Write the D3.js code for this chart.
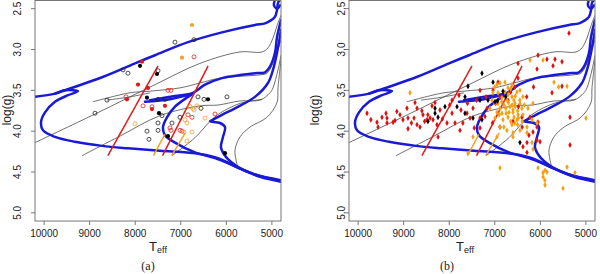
<!DOCTYPE html>
<html>
<head>
<meta charset="utf-8">
<script src="https://cdnjs.cloudflare.com/ajax/libs/d3/7.8.5/d3.min.js"></script>
<style>
body { margin: 0; background: #fff; }
svg { display: block; font-family: "Liberation Sans", Arial, sans-serif; }
</style>
</head>
<body>
<svg id="chart" width="600" height="274"></svg>
<script>
// axis ticks
var tempTicks = [10000, 9000, 8000, 7000, 6000, 5000];
var loggTicks = [2.5, 3.0, 3.5, 4.0, 4.5, 5.0];

// thick blue evolutionary tracks, [Teff, logg]
var blueTracks = [
  [[10200,3.58],[9761,3.54],[9541,3.50],[9256,3.51],[9476,3.56],[9761,3.64],[9980,3.77],[10068,3.89],[10024,3.99],[9761,4.07],[9322,4.13],[8729,4.18],[8159,4.21],[7456,4.24],[6578,4.28],[6139,4.34],[5700,4.46],[5261,4.56],[4800,4.62]],
  [[9761,3.54],[8729,3.34],[8005,3.17],[7566,3.07],[6842,2.91],[6095,2.79],[5371,2.70],[5151,2.68],[5042,2.65],[4932,2.60],[4888,2.52],[4866,2.43],[4822,2.39]],
  [[4932,2.39],[4954,2.46],[4888,2.50],[4822,2.46]],
  [[7786,3.64],[7237,3.61],[6732,3.54]],
  [[6732,3.54],[6842,3.58],[7127,3.70],[7303,3.83],[7390,3.95],[7346,4.05],[7127,4.14],[6688,4.26],[6249,4.33],[5810,4.43],[5371,4.53],[4800,4.60]],
  [[7676,3.62],[7127,3.57],[6732,3.53],[6469,3.43],[6095,3.35],[5656,3.31],[5371,3.29],[5151,3.28],[5042,3.21],[4932,3.04],[4888,2.85],[4800,2.64]],
  [[4800,2.76],[4888,3.04],[4976,3.25],[5086,3.41],[5371,3.58],[5810,3.72],[6095,3.80],[6293,3.86],[6359,3.88],[6139,3.90],[6029,3.95],[6073,4.07],[6117,4.20],[5986,4.33],[5766,4.43],[5371,4.53],[4800,4.61]]
];

// thin grey isochrones / tracks
var greyTracks = [
  [[10200,4.14],[8883,3.79],[7566,3.43],[6578,3.17],[5700,3.03],[5217,3.03],[5086,2.98],[4976,2.86],[4888,2.71],[4800,2.58]],
  [[8927,3.64],[8115,3.53],[7676,3.51],[7017,3.47],[6578,3.41],[6139,3.35],[5261,3.31],[5108,3.29],[4976,3.17],[4800,2.88]],
  [[8620,3.62],[8115,3.58],[7676,3.53]],
  [[9168,4.30],[8334,4.06],[7456,3.81],[6578,3.69],[6183,3.68],[5700,3.63],[5261,3.62],[5042,3.53],[4976,3.47],[4866,3.25],[4800,3.07]],
  [[7193,4.30],[6688,4.08],[6359,3.88],[6139,3.78],[5700,3.66],[5217,3.61]],
  [[4800,3.13],[4866,3.47],[4888,3.65],[5108,3.83],[5481,3.95],[5700,4.07],[5810,4.23],[5788,4.35],[5744,4.45]]
];

// instability strip edges
var redEdges = [[[8600,4.3],[7500,3.2]], [[7400,4.3],[6400,3.2]]];
var orangeEdges = [[[7600,4.3],[7350,4.04]], [[7200,4.3],[6900,4.02]]];

// panel (a) stars
var aFilledBlack = [[7895,3.20],[7522,3.30],[7742,3.59],[7478,3.78],[7281,4.06],[6403,3.61],[6030,4.27]];
var aFilledRed = [[7851,3.15],[7939,3.43],[7720,3.47],[8181,3.61],[7632,3.73],[7347,3.69]];
var aFilledOrange = [[6754,2.70],[6973,3.10]];
var aOpenBlack = [[8268,3.25],[8159,3.29],[7500,3.26],[7127,2.91],[6710,2.88],[8620,3.62],[8883,3.78],[7500,3.61],[7347,3.61],[7412,3.81],[7500,3.90],[7500,3.99],[7742,4.00],[7698,4.10],[7193,3.90],[7017,3.83],[6622,3.58],[6490,3.61],[5986,3.58],[6556,3.72]];
var aOpenRed = [[8203,3.58],[7829,3.69],[7632,3.70],[6710,3.09],[7281,3.50],[7215,3.50],[7237,3.96],[7215,3.99],[7017,3.99],[6973,4.00],[6842,3.80],[6754,3.83],[6249,3.79]];
var aOpenOrange = [[8005,3.91],[6908,3.86],[6864,3.90],[6929,4.01],[6754,4.01],[6864,4.12],[6798,3.70],[6732,3.72],[6644,3.69],[6710,3.74],[6469,3.84]];

// panel (b) stars
var bRed = [[5371,2.80],[6051,3.07],[5678,3.12],[5525,3.15],[5854,3.12],[6490,3.17],[6073,3.24],[5722,3.20],[6490,3.35],[5525,3.45],[5744,3.53],
  [7039,3.50],[7324,3.50],[7193,3.58],[6886,3.58],[6710,3.62],[7786,3.56],[7939,3.62],[8378,3.69],[8312,3.65],[8576,3.80],[8707,3.72],[8927,3.72],
  [8356,3.86],[7939,3.78],[7742,3.74],[7610,3.78],[7544,3.84],[7324,3.84],[7171,3.72],[7478,3.72],[8203,3.74],[8773,3.84],[9081,3.80],[9015,3.86],
  [9234,3.89],[9366,3.90],[9585,3.89],[9805,3.78],[9476,3.83],[8905,3.84],[8707,3.92],[8488,3.86],[8642,3.95],[8268,3.92],[8049,3.90],[7873,3.90],
  [7324,3.96],[6886,3.95],[6073,3.95],[6161,4.01],[6073,4.11],[6007,4.13],[6293,4.14],[6381,4.19],[6293,4.26],[5349,3.83],[5349,4.17],[6051,3.89],
  [6227,3.83],[6403,3.83],[8246,4.07],[9388,3.78],[9366,3.84],[9190,3.87],[9563,3.95],[8905,3.97],[7764,3.99],[8751,3.65],[7215,3.82],[8600,3.75],
  [8470,3.80],[8420,3.84],[8540,3.88],[8150,3.85],[7990,3.68],[7600,3.66],[7400,3.62],[6980,3.66],[6560,3.46],[6650,3.52],[6930,3.40],[6480,3.70],
  [6400,3.95],[6250,4.05],[9720,3.86],[9150,3.76],[8830,3.90],[7700,3.90],[7450,3.96],[7050,3.90],[6300,3.58],[6150,3.46],[6600,3.88]];
var bOrange = [[8861,3.53],[7478,4.07],[7588,4.27],[6951,4.07],[6600,4.07],[6886,4.45],[6183,4.14],[6051,4.45],[5942,4.51],[5898,4.48],[5854,4.50],
  [5898,4.66],[5503,4.70],[5415,4.44],[5239,4.51],[4998,3.84],[5415,3.45],[5942,3.13],[6227,3.13],[6886,3.41],[5940,4.56],[5900,4.60],[6160,4.22],
  [6776,3.40],[6929,3.53],[6995,3.66],[6886,3.72],[6732,3.62],[6622,3.58],[6512,3.52],[6447,3.66],[6600,3.77],[6710,3.83],[6820,3.86],[6512,3.86],
  [6381,3.80],[6293,3.95],[6447,3.99],[6622,3.92],[6842,3.78],[6951,3.77],[7061,3.62],[7039,3.53],[6666,3.70],[6556,3.66],[6776,3.52],[6842,3.59],
  [6710,3.47],[6381,3.58],[6271,3.72],[6183,3.86],[6403,3.72],[6622,3.43],[6951,3.43],[7105,3.72],[6995,3.84],[6732,3.99],[6886,3.95],[6600,4.02],
  [6293,4.02],[6073,3.90],[6161,3.66],[6490,3.80],[6798,3.68],[6688,3.77],[6578,3.83],[6929,3.66],[6447,3.50],[6700,3.65],[6600,3.74],[6550,3.70],
  [6750,3.78],[6650,3.88],[6500,3.75],[6450,3.62],[6850,3.64],[6700,3.55],[6500,3.92],[6400,3.88],[6800,3.95],[6350,3.68],[6550,3.57],[6650,3.48],
  [6580,3.62],[6620,3.68],[6760,3.72],[6480,3.84],[6560,3.90],[6900,3.80],[7000,3.46],[5700,3.40],[5600,3.46]];
var bBlack = [[7281,3.29],[7039,3.40],[7588,3.45],[7654,3.58],[7324,3.62],[7149,3.62],[6995,3.64],[6820,3.51],[8093,3.70],[8312,3.72],[8312,3.78],
  [8246,3.83],[8466,3.88],[7829,3.70],[7654,3.78],[7478,3.84],[7281,3.86],[6447,4.14],[6940,3.63],[6760,3.58]];

var panels = [
  {left: 35, right: 281, label: "(a)", labelX: 148, ttlX: 158, tickLabX: 17, ylabX: 11, kind: "a"},
  {left: 349, right: 595, label: "(b)", labelX: 447, ttlX: 465, tickLabX: 341, ylabX: 319, kind: "b"}
];
var plotTop = 0.5, plotBottom = 221;

var svg = d3.select("#chart");

panels.forEach(function(p, i) {
  var x = d3.scaleLinear().domain([10200, 4800]).range([p.left, p.right]);
  var y = d3.scaleLinear().domain([2.4, 5.1]).range([plotTop, plotBottom]);
  var g = svg.append("g");

  g.append("clipPath").attr("id", "clip" + i)
    .append("rect").attr("x", p.left).attr("y", plotTop)
    .attr("width", p.right - p.left).attr("height", plotBottom - plotTop);

  var plot = g.append("g").attr("clip-path", "url(#clip" + i + ")");
  var line = d3.line().x(function(d) { return x(d[0]); }).y(function(d) { return y(d[1]); })
    .curve(d3.curveCatmullRom.alpha(0.5));
  var straight = d3.line().x(function(d) { return x(d[0]); }).y(function(d) { return y(d[1]); });

  plot.selectAll(".grey").data(greyTracks).enter().append("path")
    .attr("d", line).attr("fill", "none").attr("stroke", "#4a4a4a").attr("stroke-width", 0.8);
  plot.selectAll(".blue").data(blueTracks).enter().append("path")
    .attr("d", line).attr("fill", "none").attr("stroke", "#1a1ad6").attr("stroke-width", 2.5)
    .attr("stroke-linejoin", "round").attr("stroke-linecap", "round");
  plot.selectAll(".red").data(redEdges).enter().append("path")
    .attr("d", straight).attr("stroke", "#e01c1c").attr("stroke-width", 1.5);
  plot.selectAll(".orange").data(orangeEdges).enter().append("path")
    .attr("d", straight).attr("stroke", "#f2a020").attr("stroke-width", 1.4);

  if (p.kind == "a") {
    var openSets = [[aOpenBlack, "#222"], [aOpenRed, "#e02020"], [aOpenOrange, "#f0a030"]];
    openSets.forEach(function(s) {
      plot.append("g").selectAll("circle").data(s[0]).enter().append("circle")
        .attr("cx", function(d) { return x(d[0]); }).attr("cy", function(d) { return y(d[1]); })
        .attr("r", 2).attr("fill", "none").attr("stroke", s[1]).attr("stroke-width", 0.8);
    });
    var filledSets = [[aFilledRed, "#e01818"], [aFilledOrange, "#f0a030"], [aFilledBlack, "#000"]];
    filledSets.forEach(function(s) {
      plot.append("g").selectAll("circle").data(s[0]).enter().append("circle")
        .attr("cx", function(d) { return x(d[0]); }).attr("cy", function(d) { return y(d[1]); })
        .attr("r", 2.1).attr("fill", s[1]);
    });
  } else {
    var sym = d3.symbol().type(d3.symbolDiamond).size(10);
    var sets = [[bRed, "#e01010"], [bOrange, "#f5a010"], [bBlack, "#000"]];
    sets.forEach(function(s) {
      plot.append("g").selectAll("path").data(s[0]).enter().append("path")
        .attr("d", sym)
        .attr("transform", function(d) { return "translate(" + x(d[0]) + "," + y(d[1]) + ")"; })
        .attr("fill", s[1]);
    });
  }

  // frame
  g.append("rect").attr("x", p.left).attr("y", plotTop)
    .attr("width", p.right - p.left).attr("height", plotBottom - plotTop)
    .attr("fill", "none").attr("stroke", "#777").attr("stroke-width", 1);

  // x axis
  var xa = g.append("g");
  xa.selectAll("line").data(tempTicks).enter().append("line")
    .attr("x1", x).attr("x2", x).attr("y1", plotBottom).attr("y2", plotBottom + 4)
    .attr("stroke", "#777");
  xa.selectAll("text").data(tempTicks).enter().append("text")
    .attr("x", x).attr("y", plotBottom + 16).attr("text-anchor", "middle")
    .attr("font-size", 10).attr("fill", "#222").text(function(d) { return d; });

  // y axis
  var ya = g.append("g");
  ya.selectAll("line").data(loggTicks).enter().append("line")
    .attr("x1", p.left - 4).attr("x2", p.left).attr("y1", y).attr("y2", y)
    .attr("stroke", "#777");
  ya.selectAll("text").data(loggTicks).enter().append("text")
    .attr("transform", function(d) { return "translate(" + (p.tickLabX + 3.5) + "," + y(d) + ") rotate(-90)"; })
    .attr("text-anchor", "middle").attr("font-size", 10).attr("fill", "#222")
    .text(function(d) { return d.toFixed(1); });

  g.append("text")
    .attr("transform", "translate(" + p.ylabX + ",110) rotate(-90)")
    .attr("text-anchor", "middle").attr("font-size", 12).attr("fill", "#222").text("log(g)");

  var t = g.append("text").attr("x", p.ttlX).attr("y", 251).attr("text-anchor", "middle")
    .attr("fill", "#222").attr("font-size", 13);
  t.append("tspan").text("T");
  t.append("tspan").attr("font-size", 9).attr("dy", 2).text("eff");

  g.append("text").attr("x", p.labelX).attr("y", 270).attr("text-anchor", "middle")
    .attr("font-family", "'Liberation Serif', 'Times New Roman', serif")
    .attr("font-size", 12).attr("fill", "#222").text(p.label);
});
</script>
</body>
</html>
